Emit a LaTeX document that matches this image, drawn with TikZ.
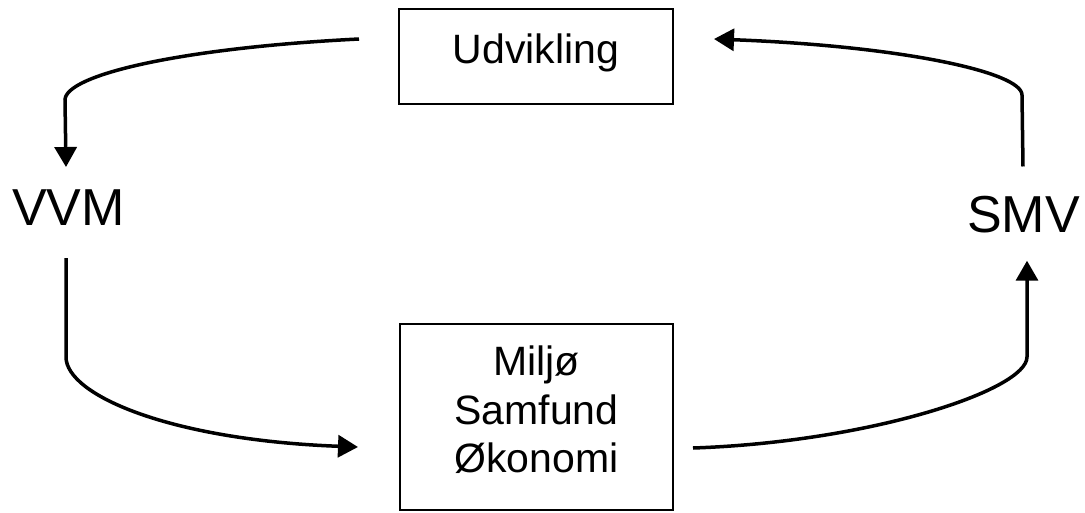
\documentclass[tikz,border=0pt]{standalone}
\usepackage{fontspec}
\setmainfont{Liberation Sans}
\usetikzlibrary{arrows.meta,calc}
\begin{document}
\begin{tikzpicture}[x=1pt,y=-1pt,
  box/.style={draw, line width=2pt, inner sep=0pt, font=\fontsize{41}{48.5}\selectfont},
  boxtext/.style={inner sep=0pt, align=center, font=\fontsize{41}{48.5}\selectfont},
  big/.style={inner sep=0pt, font=\fontsize{52}{60}\selectfont},
  conn/.style={line width=3.5pt, -{Triangle[length=20pt,width=22pt]}}]
\useasboundingbox (0,0) rectangle (1085,512);
\node[box, minimum width=274pt, minimum height=95pt, text height=30pt, text depth=17pt] (udv) at (536,56.5) {Udvikling};
\node[box, minimum width=273pt, minimum height=186pt] (env) at (536.5,417) {};
\node[boxtext] (envtext) at (536.5,410) {Miljø\\Samfund\\Økonomi};
\node[big, anchor=base] (vvm) at (68.5,225) {VVM};
\node[big, anchor=base] (smv) at (1023.5,232) {SMV};
\draw[conn] ($(udv.west)+(-39,-17.5)$) .. controls (180,48) and (65,75) .. (65,100) -- ($(vvm.north)+(-2.5,-22)$);
\draw[conn] ($(smv.north)+(-0.5,-29)$) -- (1022,95) .. controls (1022,72) and (900,46) .. ($(udv.east)+(40,-17.5)$);
\draw[conn] ($(vvm.south)+(-2.5,33)$) -- (66,357) .. controls (66,395) and (170,440) .. ($(env.west)+(-41,30)$);
\draw[conn] ($(env.east)+(19,31)$) .. controls (870,442) and (1027,390) .. (1027,357) -- ($(smv.south)+(3.5,28)$);
\end{tikzpicture}
\end{document}
